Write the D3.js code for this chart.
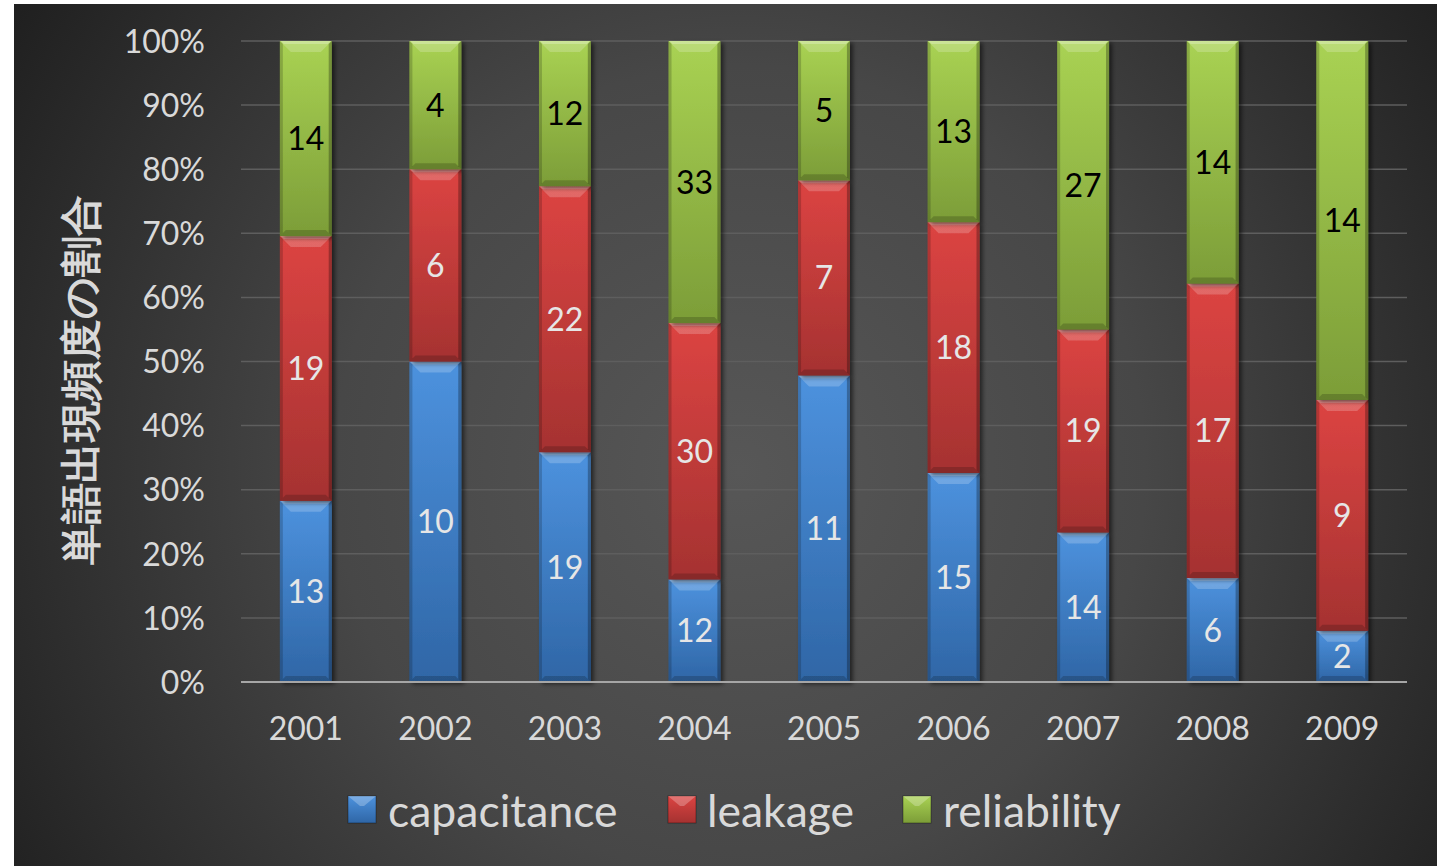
<!DOCTYPE html>
<html>
<head>
<meta charset="utf-8">
<script src="https://cdn.jsdelivr.net/npm/d3@7/dist/d3.min.js"></script>
<style>
  html, body { margin: 0; padding: 0; background: #ffffff; }
  svg { display: block; }
  text { font-family: Lato, "Noto Sans", sans-serif; }
</style>
</head>
<body>
<svg id="chart" width="1437" height="866"></svg>
<script>
// Word-frequency counts per year for three keywords
const years = ["2001", "2002", "2003", "2004", "2005", "2006", "2007", "2008", "2009"];
const capacitance = [13, 10, 19, 12, 11, 15, 14, 6, 2];
const leakage     = [19, 6, 22, 30, 7, 18, 19, 17, 9];
const reliability = [14, 4, 12, 33, 5, 13, 27, 14, 14];
const seriesNames = ["capacitance", "leakage", "reliability"];
const yTicks = [0, 0.1, 0.2, 0.3, 0.4, 0.5, 0.6, 0.7, 0.8, 0.9, 1.0];
const yTitle = "単語出現頻度の割合";

const palette = {
  capacitance: { top: "#4d92de", bottom: "#2f66a6", label: "#e6e6e6" },
  leakage:     { top: "#dc4442", bottom: "#a53231", label: "#e6e6e6" },
  reliability: { top: "#a9d253", bottom: "#7c9d38", label: "#000000" }
};

const table = years.map((y, i) => ({
  year: y, capacitance: capacitance[i], leakage: leakage[i], reliability: reliability[i]
}));

const svg = d3.select("#chart");
const W = 1437, H = 866;
const panel = { x: 14, y: 4, w: W - 14, h: H - 4 };
const plot = { left: 241, right: 1407, top: 41, bottom: 682 };

const defs = svg.append("defs");

// Dark radial background
const bg = defs.append("radialGradient").attr("id", "bg")
  .attr("gradientUnits", "userSpaceOnUse")
  .attr("cx", 740).attr("cy", 470).attr("r", 900);
bg.append("stop").attr("offset", "0").attr("stop-color", "#575757");
bg.append("stop").attr("offset", "0.45").attr("stop-color", "#474747");
bg.append("stop").attr("offset", "1").attr("stop-color", "#1c1c1c");

seriesNames.forEach(s => {
  const g = defs.append("linearGradient").attr("id", "grad-" + s)
    .attr("x1", 0).attr("y1", 0).attr("x2", 0).attr("y2", 1);
  g.append("stop").attr("offset", "0").attr("stop-color", palette[s].top);
  g.append("stop").attr("offset", "1").attr("stop-color", palette[s].bottom);
});

const shadow = defs.append("filter").attr("id", "shadow")
  .attr("x", "-20%").attr("y", "-5%").attr("width", "150%").attr("height", "115%");
shadow.append("feDropShadow").attr("dx", 3).attr("dy", 2).attr("stdDeviation", 2)
  .attr("flood-color", "#000").attr("flood-opacity", 0.55);

svg.append("rect")
  .attr("x", panel.x).attr("y", panel.y).attr("width", panel.w).attr("height", panel.h)
  .attr("fill", "url(#bg)");

// Scales
const x = d3.scaleBand().domain(years).range([plot.left, plot.right])
  .paddingInner(0.6).paddingOuter(0.3);
const y = d3.scaleLinear().domain([0, 1]).range([plot.bottom, plot.top]);

// Gridlines
svg.append("g").selectAll("line").data(yTicks.filter(t => t > 0)).join("line")
  .attr("x1", plot.left).attr("x2", plot.right)
  .attr("y1", d => y(d)).attr("y2", d => y(d))
  .attr("stroke", "#5e5e5e").attr("stroke-width", 1.5);

// Y axis tick labels
const yAxis = d3.axisLeft(y).tickValues(yTicks).tickFormat(d3.format(".0%")).tickSize(0).tickPadding(0);
const yg = svg.append("g").attr("transform", `translate(${205},0)`).call(yAxis);
yg.select(".domain").remove();
yg.selectAll("text").attr("fill", "#d9d9d9").attr("font-size", 32)
  .attr("font-family", "Lato, sans-serif").attr("dy", "0.35em");

// Stacked percentages
const stack = d3.stack().keys(seriesNames).offset(d3.stackOffsetExpand);
const layers = stack(table);

const bevel = 11, bottomBevel = 6;
layers.forEach(layer => {
  const s = layer.key;
  const g = svg.append("g").attr("class", "series-" + s);
  layer.forEach((d, i) => {
    const x0 = x(years[i]), w = x.bandwidth();
    const yt = y(d[1]), yb = y(d[0]);
    const h = yb - yt;
    const seg = g.append("g");
    seg.append("rect").attr("x", x0).attr("y", yt).attr("width", w).attr("height", h)
      .attr("fill", `url(#grad-${s})`).attr("filter", "url(#shadow)");
    // top bevel highlight
    seg.append("path")
      .attr("d", `M${x0},${yt}H${x0 + w}L${x0 + w - bevel},${yt + bevel}H${x0 + bevel}Z`)
      .attr("fill", "#ffffff").attr("opacity", 0.2);
    seg.append("path")
      .attr("d", `M${x0 + 1},${yt}H${x0 + w - 1}L${x0 + w - 4},${yt + 3}H${x0 + 4}Z`)
      .attr("fill", "#ffffff").attr("opacity", 0.25);
    // bottom bevel shade
    seg.append("path")
      .attr("d", `M${x0},${yb}H${x0 + w}L${x0 + w - bottomBevel},${yb - bottomBevel}H${x0 + bottomBevel}Z`)
      .attr("fill", "#000000").attr("opacity", 0.18);
    // side edges
    seg.append("path")
      .attr("d", `M${x0},${yt}L${x0 + 3},${yt + 3}V${yb - 3}L${x0},${yb}Z`)
      .attr("fill", "#000").attr("opacity", 0.18);
    seg.append("path")
      .attr("d", `M${x0 + w},${yt}L${x0 + w - 3},${yt + 3}V${yb - 3}L${x0 + w},${yb}Z`)
      .attr("fill", "#000").attr("opacity", 0.28);
    // value label
    g.append("text")
      .attr("x", x0 + w / 2).attr("y", (yt + yb) / 2)
      .attr("text-anchor", "middle").attr("dy", "0.36em")
      .attr("font-size", 32).attr("fill", palette[s].label)
      .text(d.data[s]);
  });
});

// Baseline axis
svg.append("line").attr("x1", plot.left).attr("x2", plot.right)
  .attr("y1", plot.bottom).attr("y2", plot.bottom)
  .attr("stroke", "#a6a6a6").attr("stroke-width", 2);

// X axis labels
const xAxis = d3.axisBottom(x).tickSize(0).tickPadding(0);
const xg = svg.append("g").attr("transform", `translate(0,${740})`).call(xAxis);
xg.select(".domain").remove();
xg.selectAll("text").attr("fill", "#d9d9d9").attr("font-size", 32)
  .attr("font-family", "Lato, sans-serif").attr("dy", 0);

// Y axis title
svg.append("text")
  .attr("transform", `translate(${95},${380}) rotate(-90)`)
  .attr("text-anchor", "middle")
  .attr("font-family", "'Noto Sans CJK JP', sans-serif")
  .attr("font-weight", "bold").attr("font-size", 41)
  .attr("fill", "#d9d9d9")
  .text(yTitle);

// Legend
const legendItems = [
  { key: "capacitance", sx: 348, tx: 388 },
  { key: "leakage", sx: 668, tx: 707 },
  { key: "reliability", sx: 903, tx: 943 }
];
const lg = svg.append("g");
legendItems.forEach(it => {
  const s = it.key, sw = 28, sy = 796;
  lg.append("rect").attr("x", it.sx).attr("y", sy).attr("width", sw).attr("height", sw - 1)
    .attr("fill", `url(#grad-${s})`).attr("stroke", "rgba(0,0,0,0.35)").attr("stroke-width", 1);
  lg.append("path")
    .attr("d", `M${it.sx},${sy}H${it.sx + sw}L${it.sx + sw / 2 + 2},${sy + 10}H${it.sx + sw / 2 - 2}Z`)
    .attr("fill", "#fff").attr("opacity", 0.25);
  lg.append("text").attr("x", it.tx).attr("y", 827)
    .attr("font-size", 44.5).attr("fill", "#d9d9d9")
    .text(s);
});
</script>
</body>
</html>
